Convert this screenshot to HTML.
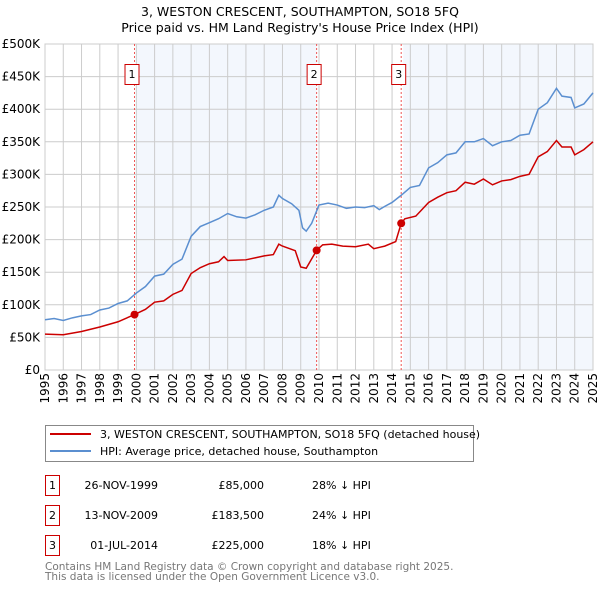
<!DOCTYPE html>
<html><head><meta charset="utf-8"><style>
body{margin:0;background:#fff;font-family:"DejaVu Sans","Liberation Sans",sans-serif;}
svg{display:block}
</style></head><body>
<svg id="c" width="600" height="590" xmlns="http://www.w3.org/2000/svg" font-family="DejaVu Sans, Liberation Sans, sans-serif">
<text x="300" y="16" text-anchor="middle" font-size="12.5">3, WESTON CRESCENT, SOUTHAMPTON, SO18 5FQ</text>
<text x="300" y="32" text-anchor="middle" font-size="12.5">Price paid vs. HM Land Registry's House Price Index (HPI)</text>
<g id="plot"></g>
<g>
<rect x="45.5" y="425.5" width="428" height="36" fill="#fff" stroke="#888"/>
<line x1="50" y1="434" x2="91" y2="434" stroke="#cc0000" stroke-width="2"/>
<text x="100" y="438" font-size="11">3, WESTON CRESCENT, SOUTHAMPTON, SO18 5FQ (detached house)</text>
<line x1="50" y1="451" x2="91" y2="451" stroke="#5b8fd0" stroke-width="2"/>
<text x="100" y="455" font-size="11">HPI: Average price, detached house, Southampton</text>
</g>
<g font-size="11">
<rect x="45.5" y="475.5" width="14" height="20" fill="#fff" stroke="#cc0000"/><text x="52.5" y="489" text-anchor="middle">1</text>
<text x="158" y="489" text-anchor="end">26-NOV-1999</text><text x="264" y="489" text-anchor="end">£85,000</text><text x="312" y="489">28% ↓ HPI</text>
<rect x="45.5" y="505.5" width="14" height="20" fill="#fff" stroke="#cc0000"/><text x="52.5" y="519" text-anchor="middle">2</text>
<text x="158" y="519" text-anchor="end">13-NOV-2009</text><text x="264" y="519" text-anchor="end">£183,500</text><text x="312" y="519">24% ↓ HPI</text>
<rect x="45.5" y="535.5" width="14" height="20" fill="#fff" stroke="#cc0000"/><text x="52.5" y="549" text-anchor="middle">3</text>
<text x="158" y="549" text-anchor="end">01-JUL-2014</text><text x="264" y="549" text-anchor="end">£225,000</text><text x="312" y="549">18% ↓ HPI</text>
</g>
<text x="45" y="570" font-size="10.5" fill="#777">Contains HM Land Registry data © Crown copyright and database right 2025.</text>
<text x="45" y="580" font-size="10.5" fill="#777">This data is licensed under the Open Government Licence v3.0.</text>
</svg>
<script>
const hpiYears=[1995,1995.5,1996,1996.5,1997,1997.5,1998,1998.5,1999,1999.5,2000,2000.5,2001,2001.5,2002,2002.5,2003,2003.5,2004,2004.5,2005,2005.5,2006,2006.5,2007,2007.5,2007.8,2008,2008.5,2008.9,2009.1,2009.3,2009.6,2010,2010.5,2011,2011.5,2012,2012.5,2013,2013.3,2013.6,2014,2014.5,2015,2015.5,2016,2016.5,2017,2017.5,2018,2018.5,2019,2019.5,2020,2020.5,2021,2021.5,2022,2022.5,2023,2023.3,2023.8,2024,2024.5,2025];
const hpiValues=[77,79,76,80,83,85,92,95,102,106,118,128,144,147,162,170,205,220,226,232,240,235,233,238,245,250,268,263,255,245,218,213,225,253,256,253,248,250,249,252,246,251,257,268,280,283,310,318,330,333,350,350,355,344,350,352,360,362,400,410,432,420,418,402,408,425];
const priceYears=[1995,1996,1997,1998,1999,1999.9,2000.5,2001,2001.5,2002,2002.5,2003,2003.5,2004,2004.5,2004.8,2005,2006,2006.5,2007,2007.5,2007.8,2008,2008.7,2009,2009.3,2009.87,2010.2,2010.7,2011.3,2012,2012.7,2013,2013.6,2014.2,2014.5,2014.7,2015.3,2016,2016.5,2017,2017.5,2018,2018.5,2019,2019.5,2020,2020.5,2021,2021.5,2022,2022.5,2023,2023.3,2023.8,2024,2024.5,2025];
const priceValues=[55,54,59,66,74,85,93,104,106,116,122,148,157,163,166,174,168,169,172,175,177,193,190,183,158,156,183.5,192,193,190,189,193,186,190,197,225,232,236,257,265,272,275,288,285,293,284,290,292,297,300,327,335,352,342,342,330,338,350];
const saleYears=[1999.9,2009.87,2014.5];
const saleValues=[85,183.5,225];
const saleLabels=["1","2","3"];
const yTicks=[0,50,100,150,200,250,300,350,400,450,500];
const yTickLabels=["£0","£50K","£100K","£150K","£200K","£250K","£300K","£350K","£400K","£450K","£500K"];
const xTicks=[1995,1996,1997,1998,1999,2000,2001,2002,2003,2004,2005,2006,2007,2008,2009,2010,2011,2012,2013,2014,2015,2016,2017,2018,2019,2020,2021,2022,2023,2024,2025];

const L=45,R=593,T=44,B=370,x0=1995,x1=2025,ymax=500;
const X=v=>L+(v-x0)/(x1-x0)*(R-L);
const Y=v=>B-v/ymax*(B-T);
const NS="http://www.w3.org/2000/svg";
const g=document.getElementById('plot');
function mk(t,a,p){const e=document.createElementNS(NS,t);for(const k in a)e.setAttribute(k,a[k]);(p||g).appendChild(e);return e;}

// shading
const bands=[[saleYears[0],saleYears[1]],[saleYears[2],x1]];
bands.forEach(b=>{const r=mk('rect',{x:X(b[0])+2,y:T,width:X(b[1])-X(b[0])-2,height:B-T,fill:'#eef3fc','fill-opacity':0.7});

});

yTicks.forEach((t,i)=>{
 const ln=mk('line',{x1:L,x2:R,y1:Y(t),y2:Y(t),stroke:'#ccc'});
 
 
 const tx=mk('text',{x:L-5,y:Y(t)+4,'text-anchor':'end','font-size':12});
 tx.textContent=yTickLabels[i];
 
 
});
xTicks.forEach(t=>{
 const ln=mk('line',{x1:X(t),x2:X(t),y1:T,y2:B,stroke:'#ccc'});
 
 
 const tx=mk('text',{x:0,y:0,'text-anchor':'end','font-size':12,transform:`translate(${X(t)+4},${B+3}) rotate(-90)`});
 tx.textContent=t;
 
 
});
const frame=mk('rect',{x:L,y:T,width:R-L,height:B-T,fill:'none',stroke:'#ccc'});



saleYears.forEach((s,i)=>{
 const ln=mk('line',{x1:X(s),x2:X(s),y1:T,y2:B,stroke:'#e55','stroke-dasharray':'2,2'});
 
 
 const r=mk('rect',{x:X(s)-9.5,y:64.5,width:14,height:20,fill:'#fff',stroke:'#cc0000'});
 
 
 const tx=mk('text',{x:X(s)-2.5,y:78,'text-anchor':'middle','font-size':11});
 tx.textContent=saleLabels[i];
 
 
});

const hp=mk('polyline',{points:hpiYears.map((y,i)=>X(y)+','+Y(hpiValues[i])).join(' '),fill:'none',stroke:'#5b8fd0','stroke-width':1.5});


const pp=mk('polyline',{points:priceYears.map((y,i)=>X(y)+','+Y(priceValues[i])).join(' '),fill:'none',stroke:'#cc0000','stroke-width':1.5});


saleYears.forEach((s,i)=>{
 const c=mk('circle',{cx:X(s),cy:Y(saleValues[i]),r:4,fill:'#cc0000'});
 
 
});
</script>
</body></html>
